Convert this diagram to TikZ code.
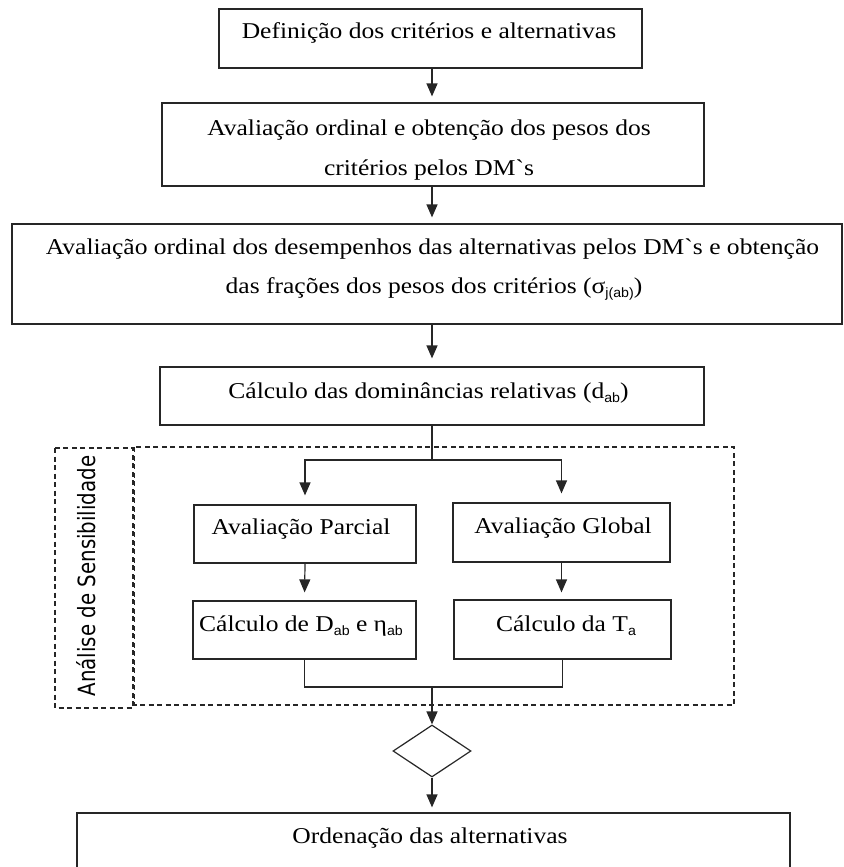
\documentclass[tikz,border=0pt]{standalone}
\usepackage{fontspec}
\usepackage{graphicx}
\setmainfont{Liberation Serif}[FakeStretch=1.13,Ligatures=TeXOff]
\newfontfamily\subfont{Liberation Sans}[FakeStretch=1.05]
\newfontfamily\sansv{DejaVu Sans}
\usetikzlibrary{arrows.meta,shapes.geometric}
\newcommand\mysub[1]{\raisebox{-0.22em}{\subfont\fontsize{13.5}{14}\selectfont #1}}
\newcommand\grv{\symbol{"60}}
\tikzset{
  x=1pt,y=1pt,
  box/.style={draw=black!85,line width=1.2pt,rectangle,inner sep=0pt},
  txt/.style={anchor=base,inner sep=0pt,font=\fontsize{22.6}{26}\selectfont},
  arr/.style={draw=black!85,line width=1.2pt,-{Triangle[width=11pt,length=13pt]}},
  ln/.style={draw=black!85,line width=1.2pt},
  dsh/.style={draw=black!85,line width=1.1pt,dash pattern=on 5pt off 3.5pt}
}
\begin{document}
\begin{tikzpicture}
\useasboundingbox (0,0) rectangle (843,-867);
\clip (0,0) rectangle (843,-867);
% boxes
\node[box,minimum width=423pt,minimum height=59pt] (b1) at (430.5,-38.5) {};
\node[box,minimum width=542pt,minimum height=83pt] (b2) at (433,-144.5) {};
\node[box,minimum width=830pt,minimum height=100pt] (b3) at (427,-274) {};
\node[box,minimum width=544pt,minimum height=58pt] (b4) at (432,-396) {};
\node[box,minimum width=222pt,minimum height=58pt] (ap) at (305,-534) {};
\node[box,minimum width=217pt,minimum height=59pt] (ag) at (561.5,-532.5) {};
\node[box,minimum width=223pt,minimum height=58pt] (cd) at (304.5,-630) {};
\node[box,minimum width=217pt,minimum height=59pt] (ct) at (562.5,-629.5) {};
\node[draw=black!85,line width=1.2pt,diamond,inner sep=0pt,minimum width=78pt,minimum height=52pt] (dia) at (432,-751) {};
\node[box,minimum width=713pt,minimum height=64pt] (ord) at (433.5,-845) {};
% dashed group frames
\draw[dsh] (55,-448) rectangle (133,-708);
\draw[dsh] (134.5,-447) rectangle (734,-705);
\node[rotate=90,inner sep=0pt] (sens) at (86,-576)
  {\scalebox{1}[1.2]{\sansv\fontsize{19.8}{20}\selectfont Análise de Sensibilidade}};
% texts
\node[txt] (t1) at (429,-39) {Definição dos critérios e alternativas};
\node[txt] (t2a) at (429,-135) {Avaliação ordinal e obtenção dos pesos dos};
\node[txt] (t2b) at (429,-175) {critérios pelos DM\grv s};
\node[txt] (t3a) at (432.5,-254) {Avaliação ordinal dos desempenhos das alternativas pelos DM\grv s e obtenção};
\node[txt] (t3b) at (434,-293) {das frações dos pesos dos critérios (σ\mysub{j(ab)})};
\node[txt] (t4) at (428.5,-398) {Cálculo das dominâncias relativas (d\mysub{ab})};
\node[txt] (tap) at (301,-534) {Avaliação Parcial};
\node[txt] (tag) at (563,-533) {Avaliação Global};
\node[txt] (tcd) at (301,-631) {Cálculo de D\mysub{ab} e η\mysub{ab}};
\node[txt] (tct) at (566,-631) {Cálculo da T\mysub{a}};
\node[txt] (tord) at (430,-843) {Ordenação das alternativas};
% connectors
\coordinate (split) at (432,-460);
\coordinate (merge) at (432,-687);
\draw[arr,shorten >=6pt] (b1.south -| dia.north) -- (b2.north -| dia.north);
\draw[arr,shorten >=6pt] (b2.south -| dia.north) -- (b3.north -| dia.north);
\draw[arr,shorten >=8pt] (b3.south -| dia.north) -- (b4.north -| dia.north);
\draw[ln] (b4.south -| dia.north) -- (split);
\draw[arr,shorten >=9pt] (split) -| (ap.north);
\draw[arr,shorten >=9pt] (split) -| (ag.north);
\draw[arr,shorten >=8pt] (ap.south) -- (cd.north);
\draw[arr,shorten >=7pt] (ag.south) -- (ct.north -| ag.south);
\draw[ln] (cd.south) |- (merge);
\draw[ln] (ct.south) |- (merge);
\draw[arr] (merge) -- (dia.north);
\draw[arr,shorten >=5pt] (dia.south) -- (ord.north -| dia.south);
\end{tikzpicture}
\end{document}
